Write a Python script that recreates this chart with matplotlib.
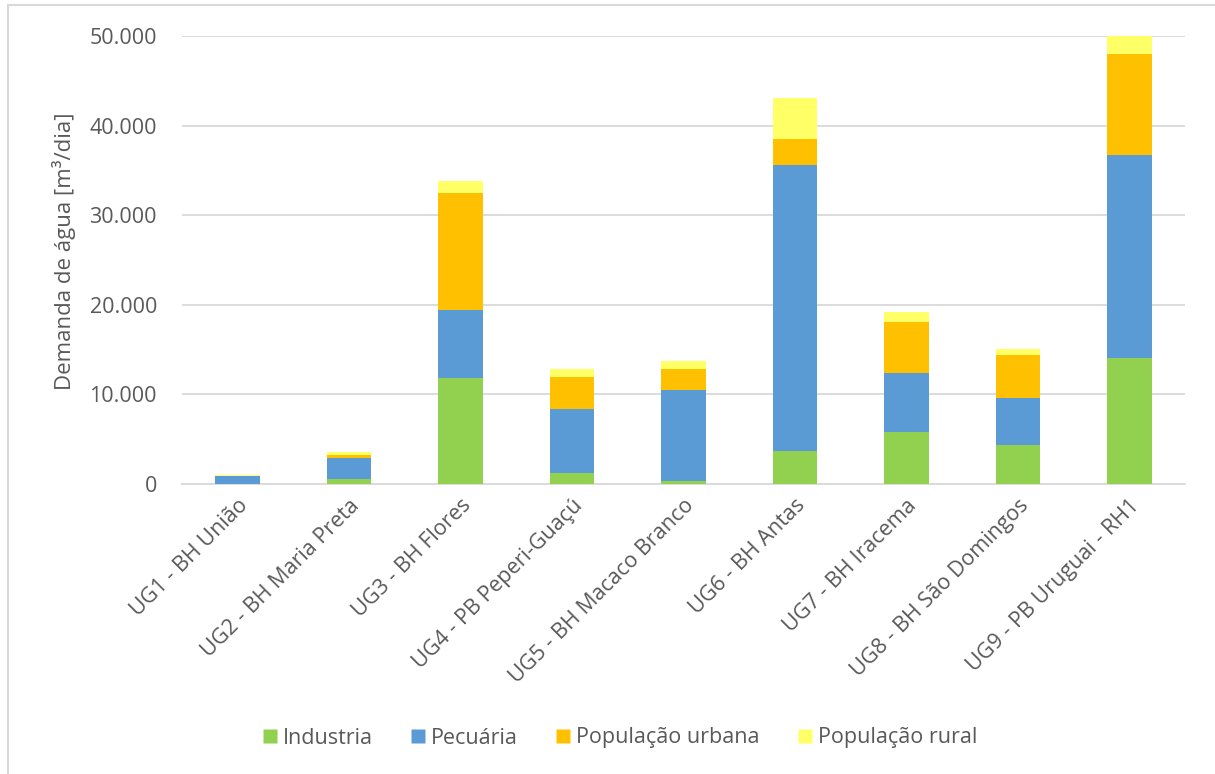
import matplotlib
matplotlib.use("Agg")
import matplotlib.pyplot as plt
from matplotlib.ticker import FuncFormatter, MultipleLocator
from matplotlib.lines import Line2D
import numpy as np

plt.rcParams['font.family'] = ['Open Sans', 'DejaVu Sans']

categories = [
    "UG1 - BH União",
    "UG2 - BH Maria Preta",
    "UG3 - BH Flores",
    "UG4 - PB Peperi-Guaçú",
    "UG5 - BH Macaco Branco",
    "UG6 - BH Antas",
    "UG7 - BH Iracema",
    "UG8 - BH São Domingos",
    "UG9 - PB Uruguai - RH1",
]
industria = [30, 550, 11830, 1190, 300, 3680, 5840, 4350, 14060]
pecuaria = [820, 2380, 7570, 7150, 10190, 31890, 6550, 5280, 22660]
pop_urbana = [60, 310, 13100, 3640, 2340, 2900, 5690, 4800, 11280]
pop_rural = [80, 300, 1300, 850, 860, 4630, 1150, 600, 2000]

series = [
    ("Industria", industria, "#92D050"),
    ("Pecuária", pecuaria, "#5B9BD5"),
    ("População urbana", pop_urbana, "#FFC000"),
    ("População rural", pop_rural, "#FFFF66"),
]

text_color = "#595959"
grid_color = "#D9D9D9"
fs = 15.5

fig = plt.figure(figsize=(12.15, 7.74), dpi=100)
ax = fig.add_axes([182 / 1215, 1 - 484 / 774, (1185 - 182) / 1215, (484 - 36) / 774])

x = np.arange(len(categories))
bottom = np.zeros(len(categories))
handles = []
for name, vals, color in series:
    vals = np.array(vals, dtype=float)
    ax.bar(x, vals, width=0.4, bottom=bottom, color=color, edgecolor="none", zorder=3)
    bottom += vals
    handles.append(Line2D([0], [0], marker="s", linestyle="none", markersize=10,
                          markerfacecolor=color, markeredgecolor="none", label=name))

ax.set_xlim(-0.5, len(categories) - 0.5)
ax.set_ylim(0, 50000)
ax.yaxis.set_major_locator(MultipleLocator(10000))
ax.yaxis.set_major_formatter(FuncFormatter(lambda v, p: f"{int(v):,}".replace(",", ".")))
ax.grid(axis="y", color=grid_color, linewidth=1.3, zorder=0)
for side in ["top", "right", "left"]:
    ax.spines[side].set_visible(False)
ax.spines["bottom"].set_color(grid_color)
ax.spines["bottom"].set_linewidth(1.3)
ax.tick_params(axis="both", length=0, colors=text_color, labelsize=fs)
ax.tick_params(axis="y", pad=18)
ax.set_xticks(x)
ax.set_xticklabels(categories, rotation=45, ha="right", rotation_mode="anchor")
ax.tick_params(axis="x", pad=8)
ax.set_ylabel("Demanda de água [m³/dia]", color=text_color, fontsize=16)
ax.yaxis.set_label_coords(-0.106, 0.52)

fig.legend(handles=handles, loc="center", bbox_to_anchor=(618 / 1215, 1 - 738 / 774),
           ncol=4, frameon=False, fontsize=fs, labelcolor=text_color,
           handletextpad=0.1, columnspacing=1.6, handlelength=1.0)

# outer chart frame
fig.add_artist(Line2D([8 / 1215, 8 / 1215], [0, 1 - 5 / 774], transform=fig.transFigure,
                      color=grid_color, linewidth=1.5))
fig.add_artist(Line2D([8 / 1215, 1], [1 - 5 / 774, 1 - 5 / 774], transform=fig.transFigure,
                      color=grid_color, linewidth=1.5))

fig.savefig("out.png", dpi=100, facecolor="white")
